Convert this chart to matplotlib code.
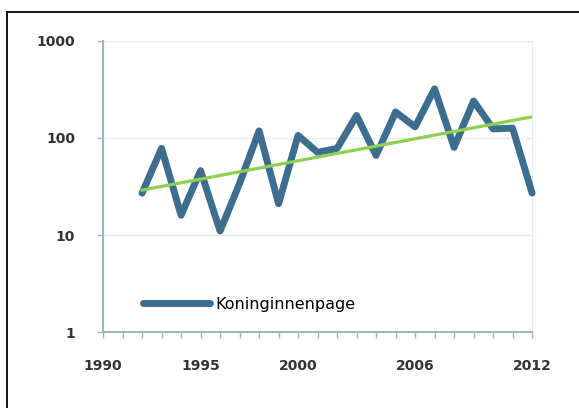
import numpy as np
import matplotlib.pyplot as plt
from matplotlib.lines import Line2D

# Yearly counts (log scale)
years = [1992, 1993, 1994, 1995, 1996, 1997, 1998, 1999, 2000, 2001, 2002,
         2003, 2004, 2005, 2006, 2007, 2008, 2009, 2010, 2011, 2012]
counts = [27, 78, 16, 46, 11, 34, 118, 21, 106, 71, 78,
          170, 66, 185, 130, 320, 80, 240, 124, 126, 27]

# Trend line end points
trend_years = [1992, 2012]
trend_values = [29, 165]

x_ticks = [1990, 1995, 2000, 2006, 2012]
y_ticks = [1, 10, 100, 1000]
series_name = "Koninginnenpage"

fig = plt.figure(figsize=(5.79, 4.08), dpi=100)
ax = fig.add_axes([0.178, 0.186, 0.741, 0.714])

axis_col = "#9fb6bc"
light = "#e3eef1"

ax.set_yscale("log")
ax.set_ylim(1, 1000)
ax.set_xlim(1990, 2012)

for v in [10, 100, 1000]:
    ax.axhline(v, color=light, lw=1, zorder=0)

ax.plot(years, counts, color="#3d6e8f", lw=5, solid_joinstyle="round",
        solid_capstyle="round", zorder=3, clip_on=False)
ax.plot(trend_years, trend_values, color="#8cd250", lw=2.3, zorder=4)

ax.set_xticks(x_ticks)
ax.set_xticklabels([str(x) for x in x_ticks])
ax.set_xticks(range(1990, 2013), minor=True)
ax.set_yticks(y_ticks)
ax.set_yticklabels([str(y) for y in y_ticks])
ax.yaxis.set_minor_locator(plt.NullLocator())

ax.tick_params(axis="x", which="both", length=4, color=axis_col, width=1,
               labelsize=10, pad=15, labelcolor="#333333")
ax.tick_params(axis="y", length=4, color=axis_col, width=1,
               labelsize=10, pad=16, labelcolor="#333333")
for lab in ax.get_xticklabels() + ax.get_yticklabels():
    lab.set_fontweight("bold")

ax.spines["left"].set_color(axis_col)
ax.spines["bottom"].set_color(axis_col)
ax.spines["left"].set_linewidth(1.5)
ax.spines["bottom"].set_linewidth(1.5)
ax.spines["top"].set_visible(False)
ax.spines["right"].set_color(light)

handle = Line2D([], [], color="#3d6e8f", lw=5, solid_capstyle="round")
ax.legend([handle], [series_name], loc="lower left", frameon=False,
          fontsize=11.5, handlelength=4.2, handletextpad=0.3,
          bbox_to_anchor=(0.06, 0.02))

# outer frame (only top and left edges fall inside the image)
fig.add_artist(Line2D([7 / 579, 1], [1 - 12 / 408, 1 - 12 / 408],
                      transform=fig.transFigure, color="black", lw=1.3))
fig.add_artist(Line2D([7 / 579, 7 / 579], [0, 1 - 12 / 408],
                      transform=fig.transFigure, color="black", lw=1.3))

fig.savefig("out.png", dpi=100)
